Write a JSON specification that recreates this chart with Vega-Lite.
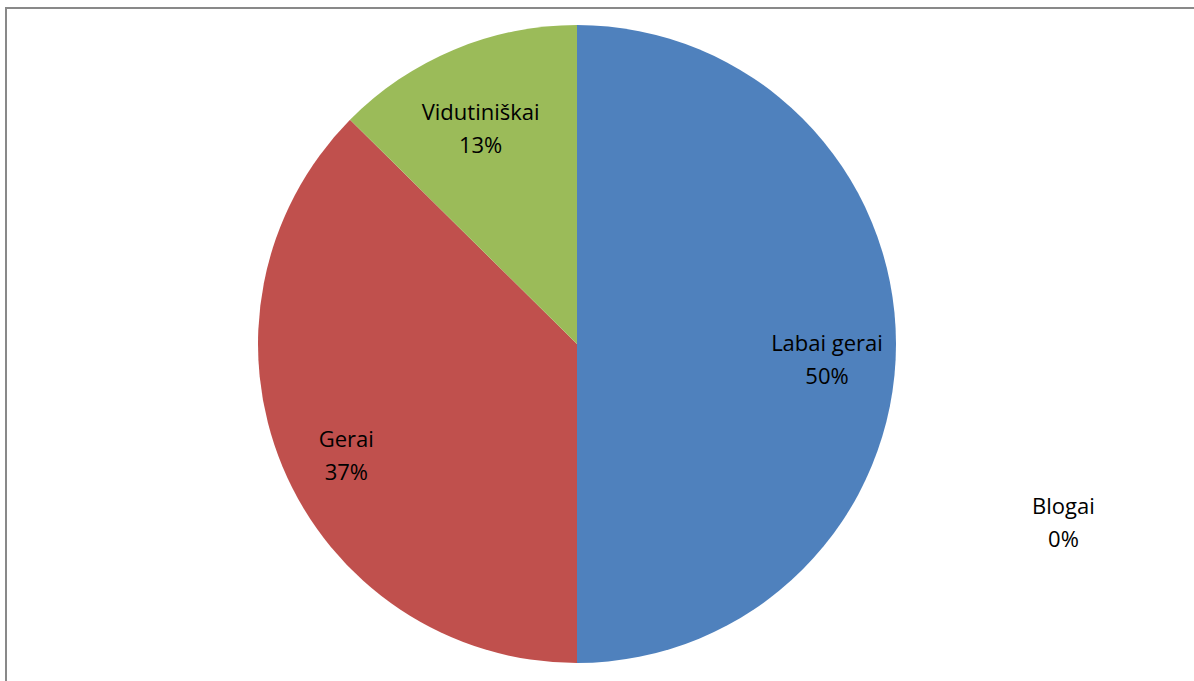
{
  "$schema": "https://vega.github.io/schema/vega-lite/v6.json",
  "width": 1200,
  "height": 690,
  "autosize": "none",
  "padding": {"left": 6, "top": 8, "right": 0, "bottom": 0},
  "background": "white",
  "view": {"stroke": "#898989", "strokeWidth": 2},
  "config": {
    "text": {"font": "Open Sans", "fontSize": 22, "color": "black"}
  },
  "data": {
    "values": [
      {"category": "Labai gerai", "share": 0.50, "idx": 1},
      {"category": "Gerai", "share": 0.374, "idx": 2},
      {"category": "Vidutiniškai", "share": 0.126, "idx": 3},
      {"category": "Blogai", "share": 0.0, "idx": 4}
    ]
  },
  "transform": [
    {"calculate": "datum.category + '\\n' + format(datum.share, '.0%')", "as": "label"}
  ],
  "encoding": {
    "theta": {"field": "share", "type": "quantitative", "stack": true},
    "order": {"field": "idx", "type": "quantitative"}
  },
  "layer": [
    {
      "mark": {"type": "arc", "outerRadius": 319, "stroke": null, "xOffset": -29, "yOffset": -9},
      "encoding": {
        "color": {
          "field": "category",
          "type": "nominal",
          "scale": {
            "domain": ["Labai gerai", "Gerai", "Vidutiniškai", "Blogai"],
            "range": ["#4F81BD", "#C0504D", "#9BBB59", "#8064A2"]
          },
          "legend": null
        }
      }
    },
    {
      "transform": [{"filter": "datum.share > 0"}],
      "mark": {"type": "text", "radius": 250, "xOffset": -29, "yOffset": -9, "lineBreak": "\n", "lineHeight": 33, "align": "center", "baseline": "middle", "font": "Open Sans", "fontSize": 22},
      "encoding": {"text": {"field": "label"}}
    },
    {
      "transform": [{"filter": "datum.share == 0"}],
      "mark": {"type": "text", "theta": 1.894, "radius": 513, "xOffset": -29, "yOffset": -9, "lineBreak": "\n", "lineHeight": 33, "align": "center", "baseline": "middle", "font": "Open Sans", "fontSize": 22},
      "encoding": {"text": {"field": "label"}, "theta": null}
    }
  ]
}
